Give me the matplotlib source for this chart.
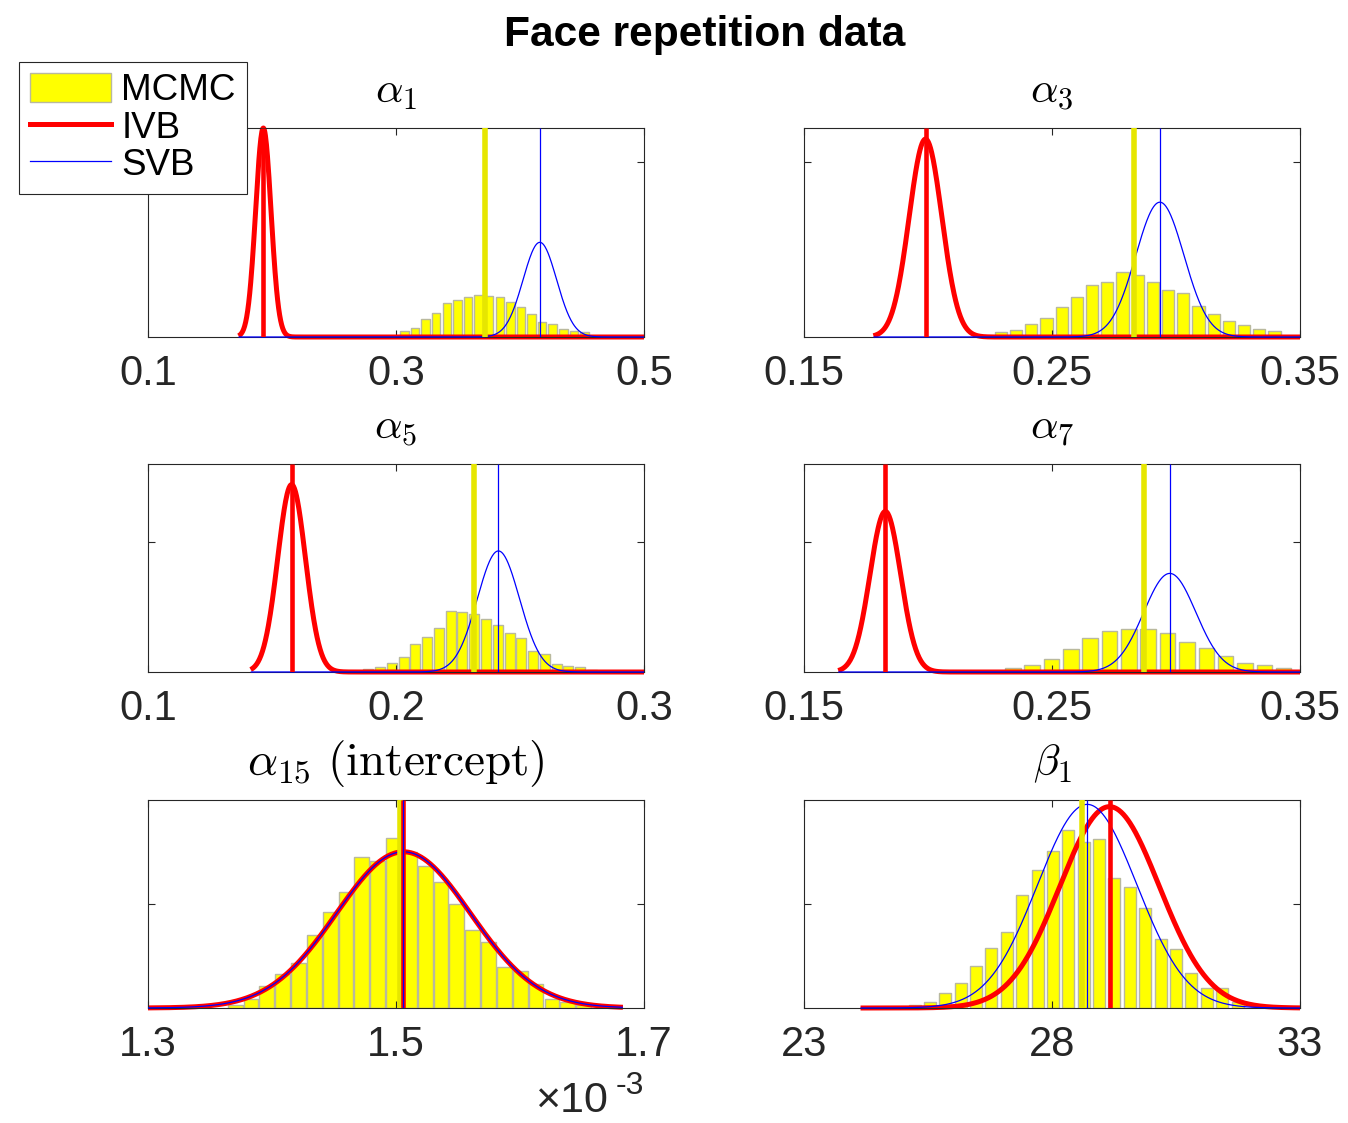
import numpy as np
import matplotlib
matplotlib.use("Agg")
import matplotlib.pyplot as plt
from matplotlib.patches import Patch
from matplotlib.lines import Line2D

plt.rcParams["font.family"] = ["Liberation Sans", "DejaVu Sans"]
plt.rcParams["mathtext.fontset"] = "cm"

# ---------------- data (y in fraction of each panel's y-range) ----------------
titles = [r"$\alpha_1$", r"$\alpha_3$", r"$\alpha_5$", r"$\alpha_7$",
          r"$\alpha_{15}\ \mathrm{(intercept)}$", r"$\beta_1$"]

xlims = [(0.1, 0.5), (0.15, 0.35), (0.1, 0.3), (0.15, 0.35), (1.3, 1.7), (23, 33)]
xtick_labels = [["0.1", "0.3", "0.5"], ["0.15", "0.25", "0.35"], ["0.1", "0.2", "0.3"],
                ["0.15", "0.25", "0.35"], ["1.3", "1.5", "1.7"], ["23", "28", "33"]]
ytick_pos = [0.835, 0.839, 0.623, 0.623, 0.5, 0.5]

# MCMC histograms: first bin centre, bin width, bar heights
a1_hist = [0.030, 0.045, 0.085, 0.116, 0.161, 0.177, 0.193, 0.199, 0.196, 0.190,
           0.166, 0.145, 0.110, 0.073, 0.061, 0.037, 0.030, 0.026]
a3_hist = [0.024, 0.032, 0.064, 0.091, 0.144, 0.193, 0.248, 0.261, 0.309, 0.298,
           0.262, 0.224, 0.212, 0.148, 0.112, 0.075, 0.056, 0.038, 0.027]
a5_hist = [0.014, 0.023, 0.045, 0.074, 0.135, 0.169, 0.213, 0.291, 0.288, 0.279,
           0.256, 0.226, 0.188, 0.163, 0.101, 0.085, 0.037, 0.030, 0.025, 0.012]
a7_hist = [0.018, 0.034, 0.062, 0.110, 0.162, 0.197, 0.206, 0.207, 0.187, 0.143,
           0.114, 0.079, 0.045, 0.032, 0.018]
a15_hist = [0.013, 0.045, 0.106, 0.162, 0.217, 0.353, 0.462, 0.559, 0.726, 0.707,
            0.815, 0.750, 0.684, 0.604, 0.502, 0.377, 0.318, 0.197, 0.177, 0.114,
            0.045, 0.030, 0.013]
b1_hist = [0.014, 0.030, 0.074, 0.120, 0.202, 0.290, 0.367, 0.543, 0.665, 0.755,
           0.854, 0.800, 0.812, 0.627, 0.582, 0.479, 0.330, 0.284, 0.167, 0.098,
           0.095, 0.030]
hists = [a1_hist, a3_hist, a5_hist, a7_hist, a15_hist, b1_hist]
bin_first = [0.3068, 0.2294, 0.1888, 0.2342, 1.3703, 25.23]
bin_width = [0.00854, 0.00613, 0.00475, 0.0078, 0.01277, 0.31]

# posterior means
mcmc_mean = [0.372, 0.2832, 0.2314, 0.287, 1.503, 28.60]
ivb_mean = [0.193, 0.199, 0.1579, 0.1828, 1.506, 29.16]
svb_mean = [0.416, 0.2935, 0.2413, 0.2975, 1.506, 28.71]
# Gaussian approximations: std dev and peak height
ivb_sd = [0.0062, 0.0066, 0.0056, 0.0062, 0.054, 1.0]
ivb_peak = [1.0, 0.947, 0.901, 0.772, 0.751, 0.968]
svb_sd = [0.0135, 0.0097, 0.0085, 0.0105, 0.054, 1.0]
svb_peak = [0.453, 0.645, 0.582, 0.474, 0.751, 0.979]
# x-range over which the densities were evaluated
grid_start = [0.173, 0.178, 0.1414, 0.1638, 1.30, 24.14]
grid_end = [0.5, 0.35, 0.3, 0.35, 1.683, 33]

# ---------------- figure ----------------
W, H = 1348, 1123
fig = plt.figure(figsize=(W / 100, H / 100), dpi=100)
col_left = [148, 804]
rows = [(128, 337), (464, 672), (800, 1008)]
axw = 496
dark = "#262626"
bar_frac = [0.8, 0.8, 0.85, 0.8, 0.93, 0.78]
title_sizes = [31, 31, 31, 31, 34, 31]

for i in range(6):
    r, c = divmod(i, 2)
    top, bot = rows[r]
    ax = fig.add_axes([col_left[c] / W, 1 - bot / H, axw / W, (bot - top) / H])
    centers = bin_first[i] + bin_width[i] * np.arange(len(hists[i]))
    ax.bar(centers, hists[i], width=bin_width[i] * bar_frac[i], color="#ffff00",
           edgecolor="#b9b99e", linewidth=1.0, zorder=1)
    x = np.linspace(grid_start[i], grid_end[i], 800)
    ax.plot(x, ivb_peak[i] * np.exp(-0.5 * ((x - ivb_mean[i]) / ivb_sd[i]) ** 2),
            color="#ff0000", lw=3.6, zorder=2, clip_on=False, solid_capstyle="butt")
    ax.plot(x, svb_peak[i] * np.exp(-0.5 * ((x - svb_mean[i]) / svb_sd[i]) ** 2),
            color="#0000ff", lw=0.9, zorder=3, clip_on=False, solid_capstyle="butt")
    ax.axvline(mcmc_mean[i], color="#e6e600", lw=4.0, zorder=4, solid_capstyle="butt")
    ax.axvline(ivb_mean[i], color="#ff0000", lw=3.3, zorder=5, solid_capstyle="butt")
    ax.axvline(svb_mean[i], color="#0000ff", lw=0.9, zorder=6, solid_capstyle="butt")

    x0, x1 = xlims[i]
    ax.set_xlim(x0, x1)
    ax.set_ylim(0, 1)
    ax.set_xticks([x0, (x0 + x1) / 2, x1])
    ax.set_xticklabels(xtick_labels[i])
    ax.set_yticks([ytick_pos[i]])
    ax.set_yticklabels([])
    ax.tick_params(direction="in", length=5, width=0.8, top=True, right=True,
                   colors=dark, labelsize=30, pad=12)
    for s in ax.spines.values():
        s.set_color(dark)
        s.set_linewidth(0.8)
    ax.set_title(titles[i], fontsize=title_sizes[i], pad=18)

fig.text(705 / W, 1 - 46 / H, "Face repetition data", ha="center", va="baseline",
         fontsize=30.6, fontweight="bold")

fig.text(535 / W, 1 - 1112 / H, "\u00d710", ha="left", va="baseline", fontsize=31,
         color=dark)
fig.text(616 / W, 1 - 1094 / H, "-3", ha="left", va="baseline", fontsize=23, color=dark)

handles = [Patch(facecolor="#ffff00", edgecolor="#b9b99e", lw=1.0),
           Line2D([], [], color="#ff0000", lw=3.6),
           Line2D([], [], color="#0000ff", lw=0.9)]
leg = fig.legend(handles, ["MCMC", "IVB", "SVB"], loc="upper left",
                 bbox_to_anchor=(19 / W, 1 - 62 / H), fontsize=26.5, frameon=True,
                 fancybox=False, edgecolor=dark, framealpha=1, borderpad=0.3,
                 labelspacing=0.06, handlelength=2.2, handleheight=0.83,
                 handletextpad=0.28, borderaxespad=0)
leg.get_frame().set_linewidth(0.8)

fig.savefig("out.png", dpi=100)
